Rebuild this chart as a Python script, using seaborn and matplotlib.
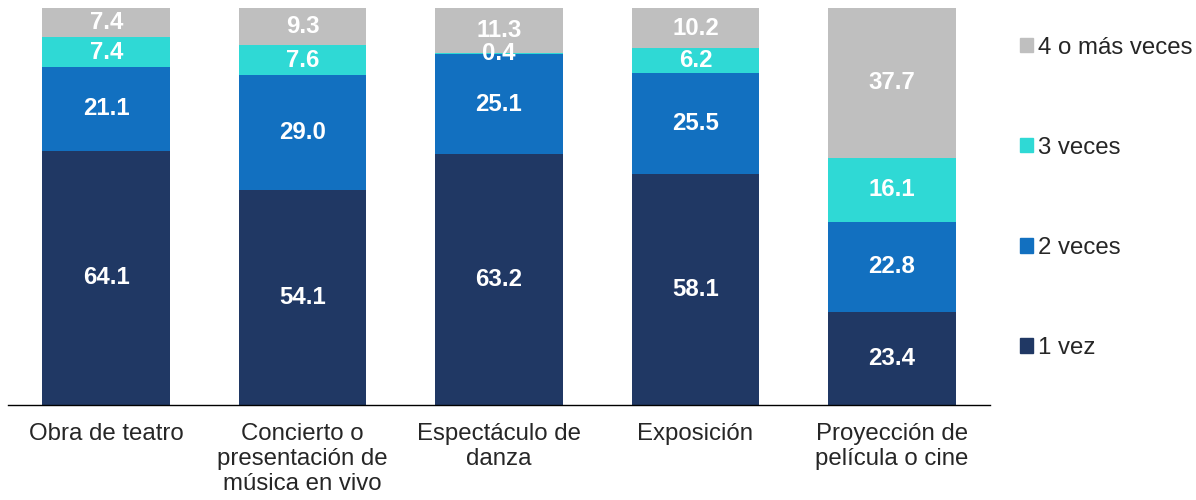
import numpy as np
import pandas as pd
import seaborn as sns
import matplotlib.pyplot as plt
from matplotlib.patches import Patch

# data (percent)
categorias = ["Obra de teatro", "Concierto o\npresentación de\nmúsica en vivo",
              "Espectáculo de\ndanza", "Exposición", "Proyección de\npelícula o cine"]
una_vez = [64.1, 54.1, 63.2, 58.1, 23.4]
dos_veces = [21.1, 29.0, 25.1, 25.5, 22.8]
tres_veces = [7.4, 7.6, 0.4, 6.2, 16.1]
cuatro_mas = [7.4, 9.3, 11.3, 10.2, 37.7]

series = ["1 vez", "2 veces", "3 veces", "4 o más veces"]
colores = ["#203864", "#1270C0", "#2FD9D5", "#BFBFBF"]

df = pd.DataFrame({"cat": categorias, "1 vez": una_vez, "2 veces": dos_veces,
                   "3 veces": tres_veces, "4 o más veces": cuatro_mas})

sns.set_style("white")
plt.rcParams["font.family"] = ["Liberation Sans", "DejaVu Sans"]
fs = 17.3

fig = plt.figure(figsize=(11.96, 5), dpi=100)
ax = fig.add_axes([8 / 1196, 95 / 500, 982 / 1196, 397 / 500])

# stacked bars: draw cumulative totals from top layer down
cum = df[series].cumsum(axis=1)
for s, c in reversed(list(zip(series, colores))):
    sns.barplot(x=df["cat"], y=cum[s], color=c, saturation=1, width=0.65,
                ax=ax, linewidth=0)

# value labels
for i in range(len(categorias)):
    base = 0
    for s in series:
        v = df[s][i]
        ax.text(i, base + v / 2, f"{v:.1f}", ha="center", va="center",
                color="white", fontsize=fs, fontweight="bold")
        base += v

ax.set_xlim(-0.5, 4.5)
ax.set_ylim(0, 100)
ax.set_yticks([])
ax.set_xlabel("")
ax.set_ylabel("")
for sp in ["top", "right", "left"]:
    ax.spines[sp].set_visible(False)
ax.spines["bottom"].set_color("black")
ax.spines["bottom"].set_linewidth(1)
ax.tick_params(axis="x", length=0, pad=13, labelsize=fs)
for t in ax.get_xticklabels():
    t.set_linespacing(1.17)

handles = [Patch(color=c, label=s) for s, c in zip(series, colores)][::-1]
fig.legend(handles=handles, loc="upper left", bbox_to_anchor=(998 / 1196, 1 - 15 / 500),
           frameon=False, fontsize=fs, handlelength=0.55, handleheight=0.55,
           handletextpad=0.2, labelspacing=3.25)

fig.savefig("out.png", dpi=100)
